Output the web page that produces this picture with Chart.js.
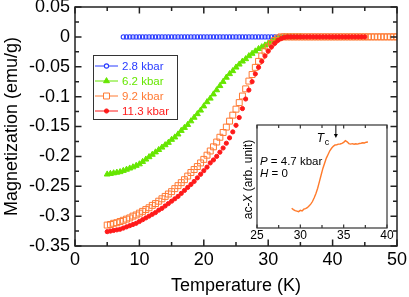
<!DOCTYPE html>
<html>
<head>
<meta charset="utf-8">
<script src="https://cdn.jsdelivr.net/npm/chart.js@4.4.1/dist/chart.umd.min.js"></script>
<style>
  body { margin: 0; background: #fff; }
  #wrap { position: relative; width: 409px; height: 297px; }
  #main { position: absolute; left: 0; top: 0; }
  #inset { position: absolute; left: 235px; top: 116px; }
</style>
</head>
<body>
<div id="wrap">
  <canvas id="main" width="409" height="297"></canvas>
  <canvas id="inset" width="174" height="140"></canvas>
</div>
<script>
// temperature grid (K) for the four M(T) curves
const temps = [
  5, 5.5, 6, 6.5, 7, 7.5, 8, 8.5, 9, 9.5,
  10, 10.5, 11, 11.5, 12, 12.5, 13, 13.5, 14, 14.5,
  15, 15.5, 16, 16.5, 17, 17.5, 18, 18.5, 19, 19.5,
  20, 20.5, 21, 21.5, 22, 22.5, 23, 23.5, 24, 24.5,
  25, 25.5, 26, 26.5, 27, 27.5, 28, 28.5, 29, 29.5,
  30, 30.5, 31, 31.5, 32, 32.5, 33, 33.5, 34, 34.5,
  35, 35.5, 36, 36.5, 37, 37.5, 38, 38.5, 39, 39.5,
  40, 40.5, 41, 41.5, 42, 42.5, 43, 43.5, 44, 44.5,
  45, 45.5, 46, 46.5, 47, 47.5, 48, 48.5, 49, 49.5,
  50
];

// magnetization (emu/g), null = not measured
const m28 = [
  null, null, null, null, null, 0, 0, 0, 0, 0,
  0, 0, 0, 0, 0, 0, 0, 0, 0, 0,
  0, 0, 0, 0, 0, 0, 0, 0, 0, 0,
  0, 0, 0, 0, 0, 0, 0, 0, 0, 0,
  0, 0, 0, 0, 0, 0, 0, 0, 0, 0,
  0, 0, 0, 0, 0, 0, 0, 0, 0, null,
  null, null, null, null, null, null, null, null, null, null,
  null, null, null, null, null, null, null, null, null, null,
  null, null, null, null, null, null, null, null, null, null,
  null
];
const m62 = [
  -0.230, -0.229, -0.228, -0.227, -0.226, -0.224, -0.222, -0.220, -0.218, -0.2155,
  -0.213, -0.209, -0.205, -0.201, -0.197, -0.193, -0.189, -0.185, -0.181, -0.177,
  -0.172, -0.168, -0.163, -0.157, -0.152, -0.147, -0.141, -0.135, -0.129, -0.123,
  -0.116, -0.109, -0.103, -0.096, -0.089, -0.082, -0.075, -0.068, -0.062, -0.057,
  -0.051, -0.046, -0.041, -0.037, -0.032, -0.028, -0.024, -0.020, -0.017, -0.014,
  -0.011, -0.008, -0.005, -0.003, -0.001, 0, 0, 0, 0, 0,
  0, null, null, null, null, null, null, null, null, null,
  null, null, null, null, null, null, null, null, null, null,
  null, null, null, null, null, null, null, null, null, null,
  null
];
const m92 = [
  -0.315, -0.314, -0.312, -0.311, -0.309, -0.307, -0.305, -0.303, -0.300, -0.298,
  -0.295, -0.292, -0.289, -0.286, -0.282, -0.279, -0.275, -0.271, -0.267, -0.263,
  -0.259, -0.254, -0.249, -0.244, -0.239, -0.233, -0.227, -0.222, -0.217, -0.211,
  -0.205, -0.198, -0.191, -0.184, -0.176, -0.168, -0.160, -0.151, -0.141, -0.131,
  -0.121, -0.110, -0.099, -0.087, -0.074, -0.063, -0.051, -0.041, -0.032, -0.024,
  -0.017, -0.011, -0.006, -0.002, 0, 0, 0, 0, 0, 0,
  0, 0, 0, 0, 0, 0, 0, 0, 0, 0,
  0, 0, 0, 0, 0, 0, 0, 0, 0, 0,
  0, 0, 0, 0, 0, 0, 0, 0, 0, 0,
  0
];
const m113 = [
  -0.326, -0.325, -0.324, -0.323, -0.322, -0.320, -0.318, -0.316, -0.314, -0.312,
  -0.309, -0.306, -0.303, -0.300, -0.297, -0.294, -0.290, -0.287, -0.283, -0.279,
  -0.275, -0.271, -0.267, -0.262, -0.257, -0.252, -0.247, -0.242, -0.236, -0.230,
  -0.224, -0.218, -0.211, -0.206, -0.200, -0.193, -0.186, -0.178, -0.169, -0.159,
  -0.148, -0.135, -0.120, -0.104, -0.089, -0.075, -0.062, -0.051, -0.041, -0.032,
  -0.024, -0.017, -0.011, -0.006, -0.003, -0.001, 0, 0, 0, 0,
  0, 0, 0, 0, 0, 0, 0, 0, 0, 0,
  0, 0, 0, 0, 0, 0, 0, 0, 0, 0,
  0, null, null, null, null, null, null, null, null, null,
  null
];
const seriesLabels = ['2.8 kbar', '6.2 kbar', '9.2 kbar', '11.3 kbar'];

// inset: ac susceptibility at 4.7 kbar, arbitrary units
const insetTemps = [
  29.0, 29.2, 29.4, 29.6, 29.8, 30.0, 30.2, 30.4, 30.6, 30.8,
  31.0, 31.2, 31.4, 31.6, 31.8, 32.0, 32.2, 32.4, 32.6, 32.8,
  33.0, 33.2, 33.4, 33.6, 33.8, 34.0, 34.2, 34.4, 34.6, 34.8,
  35.0, 35.2, 35.4, 35.6, 35.8, 36.0, 36.2, 36.4, 36.6, 36.8,
  37.0, 37.2, 37.4, 37.6, 37.8
];
const insetChi = [
  1.34, 1.25, 1.18, 1.15, 1.11, 1.20, 1.16, 1.28, 1.32, 1.38,
  1.50, 1.62, 1.80, 2.05, 2.35, 2.70, 3.15, 3.60, 4.05, 4.40,
  4.75, 5.00, 5.25, 5.42, 5.55, 5.64, 5.66, 5.70, 5.71, 5.75,
  5.82, 5.93, 5.86, 5.74, 5.70, 5.73, 5.69, 5.72, 5.70, 5.74,
  5.76, 5.79, 5.78, 5.83, 5.84
];
const tcTemp = 34.1;

const FONT = '"Liberation Sans", Arial, sans-serif';
Chart.defaults.font.family = FONT;
Chart.defaults.color = '#000';

function points(xs, ys) {
  return xs.map((x, i) => ({ x: x, y: ys[i] })).filter(p => p.y !== null);
}

// inward ticks plus the frame
const frameTicks = {
  id: 'frameTicks',
  afterDatasetsDraw(chart, args, o) {
    const ctx = chart.ctx, a = chart.chartArea;
    const x = chart.scales.x, y = chart.scales.y;
    const isMajor = (v, m) => Math.abs(v / m - Math.round(v / m)) < 1e-6;
    ctx.save();
    ctx.strokeStyle = o.color;
    ctx.lineWidth = o.width;
    ctx.beginPath();
    for (let v = x.min; v <= x.max + 1e-9; v += o.xStep) {
      const px = x.getPixelForValue(v);
      const len = isMajor(v, o.xMajor) ? o.major : o.minor;
      ctx.moveTo(px, a.bottom); ctx.lineTo(px, a.bottom - len);
      ctx.moveTo(px, a.top); ctx.lineTo(px, a.top + len);
    }
    if (o.yStep) {
      for (let v = y.min; v <= y.max + 1e-9; v += o.yStep) {
        const py = y.getPixelForValue(v);
        const len = isMajor(v, o.yMajor) ? o.major : o.minor;
        ctx.moveTo(a.left, py); ctx.lineTo(a.left + len, py);
        ctx.moveTo(a.right, py); ctx.lineTo(a.right - len, py);
      }
    }
    ctx.stroke();
    ctx.strokeRect(a.left, a.top, a.right - a.left, a.bottom - a.top);
    ctx.restore();
  }
};

const boxLegend = {
  id: 'boxLegend',
  afterDatasetsDraw(chart, args, o) {
    const ctx = chart.ctx;
    ctx.save();
    ctx.fillStyle = '#fff';
    ctx.fillRect(o.x, o.y, o.w, o.h);
    ctx.strokeStyle = '#333';
    ctx.lineWidth = 1;
    ctx.strokeRect(o.x + 0.5, o.y + 0.5, o.w, o.h);
    ctx.font = o.font + 'px ' + FONT;
    ctx.textBaseline = 'middle';
    chart.data.datasets.forEach((ds, i) => {
      const yy = o.y + o.first + i * o.step;
      ctx.strokeStyle = ds.borderColor;
      ctx.lineWidth = 1;
      ctx.beginPath();
      ctx.moveTo(o.x + 2, yy); ctx.lineTo(o.x + 25, yy);
      ctx.stroke();
      ctx.fillStyle = ds.pointBackgroundColor === 'transparent' ? '#fff' : ds.pointBackgroundColor;
      ctx.lineWidth = ds.pointBorderWidth;
      Chart.helpers.drawPoint(ctx, {
        pointStyle: ds.pointStyle, radius: ds.pointRadius, rotation: 0, borderWidth: ds.pointBorderWidth
      }, o.x + 13.5, yy);
      ctx.fillStyle = ds.borderColor;
      ctx.fillText(ds.label, o.x + 29, yy + 0.5);
    });
    ctx.restore();
  }
};

const colors = ['#2a3cff', '#66e600', '#ff7a33', '#ff1a1a'];
const styles = [
  { pointStyle: 'circle', pointRadius: 2.1, border: 1.1, fill: 'transparent', order: 3 },
  { pointStyle: 'triangle', pointRadius: 3.4, border: 1, fill: colors[1], order: 2 },
  { pointStyle: 'rect', pointRadius: 4.2, border: 1, fill: 'transparent', order: 1 },
  { pointStyle: 'circle', pointRadius: 2.1, border: 1, fill: colors[3], order: 0 }
];
const mData = [m28, m62, m92, m113];

new Chart(document.getElementById('main'), {
  type: 'scatter',
  data: {
    datasets: mData.map((vals, i) => ({
      label: seriesLabels[i],
      data: points(temps, vals),
      showLine: false,
      borderColor: colors[i],
      pointBorderColor: colors[i],
      pointBackgroundColor: styles[i].fill,
      pointStyle: styles[i].pointStyle,
      pointRadius: styles[i].pointRadius,
      pointBorderWidth: styles[i].border,
      order: styles[i].order
    }))
  },
  options: {
    responsive: false,
    animation: false,
    layout: { padding: { left: 0, right: 12, top: 7, bottom: 0 } },
    plugins: {
      legend: { display: false },
      tooltip: { enabled: false },
      frameTicks: { color: '#222', width: 1.5, xStep: 5, xMajor: 10, yStep: 0.025, yMajor: 0.05, major: 6.5, minor: 4 },
      boxLegend: { x: 93, y: 55, w: 84, h: 64, first: 11, step: 15, font: 11.5 }
    },
    scales: {
      x: {
        type: 'linear', min: 0, max: 50,
        ticks: { stepSize: 10, font: { size: 18 }, padding: 3, maxRotation: 0 },
        grid: { display: false, drawTicks: false },
        border: { display: false },
        title: { display: true, text: 'Temperature (K)', font: { size: 18 }, padding: { top: 0, bottom: 0 } },
        afterFit(s) { s.height = 51; s.paddingLeft = 0; s.paddingRight = 0; }
      },
      y: {
        type: 'linear', min: -0.35, max: 0.05,
        ticks: { stepSize: 0.05, font: { size: 18 }, padding: 5, callback: v => String(Number(v.toFixed(2))) },
        grid: { display: false, drawTicks: false },
        border: { display: false },
        title: { display: true, text: 'Magnetization (emu/g)', font: { size: 18 }, padding: { top: 1, bottom: 0 } },
        afterFit(s) { s.width = 75; s.paddingTop = 0; s.paddingBottom = 0; }
      }
    }
  },
  plugins: [frameTicks, boxLegend]
});

// text with italic pieces, runs = [[text, italic], ...]
function drawRuns(ctx, runs, x, y, size) {
  let cx = x;
  runs.forEach(r => {
    ctx.font = (r[1] ? 'italic ' : '') + size + 'px ' + FONT;
    ctx.fillText(r[0], cx, y);
    cx += ctx.measureText(r[0]).width;
  });
}
function runsWidth(ctx, runs, size) {
  let w = 0;
  runs.forEach(r => {
    ctx.font = (r[1] ? 'italic ' : '') + size + 'px ' + FONT;
    w += ctx.measureText(r[0]).width;
  });
  return w;
}

const insetNotes = {
  id: 'insetNotes',
  beforeDraw(chart) {
    const ctx = chart.ctx, a = chart.chartArea;
    ctx.save();
    ctx.fillStyle = '#fff';
    ctx.fillRect(a.left, a.top, a.right - a.left, a.bottom - a.top);
    ctx.restore();
  },
  afterDatasetsDraw(chart) {
    const ctx = chart.ctx, a = chart.chartArea;
    ctx.save();
    ctx.fillStyle = '#000';
    ctx.textBaseline = 'middle';
    drawRuns(ctx, [['P', true], [' = 4.7 kbar', false]], a.left + 3, 46, 11.5);
    drawRuns(ctx, [['H', true], [' = 0', false]], a.left + 3, 57.5, 11.5);

    // Tc arrow
    const ax = chart.scales.x.getPixelForValue(tcTemp);
    ctx.strokeStyle = '#000';
    ctx.lineWidth = 1;
    ctx.beginPath();
    ctx.moveTo(ax, a.top); ctx.lineTo(ax, a.top + 10);
    ctx.stroke();
    ctx.beginPath();
    ctx.moveTo(ax - 2, a.top + 9); ctx.lineTo(ax + 2, a.top + 9); ctx.lineTo(ax, a.top + 13);
    ctx.closePath(); ctx.fill();
    ctx.font = 'italic 12px ' + FONT;
    ctx.fillText('T', ax - 19, a.top + 13.5);
    ctx.font = '9px ' + FONT;
    ctx.fillText('c', ax - 11, a.top + 17.5);

    // rotated y title
    const title = [['ac-', false], ['X', true], [' (arb. unit)', false]];
    ctx.translate(13.5, (a.top + a.bottom) / 2 + 3);
    ctx.rotate(-Math.PI / 2);
    const w = runsWidth(ctx, title, 12);
    drawRuns(ctx, title, -w / 2, 0, 12);
    ctx.restore();
  }
};

new Chart(document.getElementById('inset'), {
  type: 'scatter',
  data: {
    datasets: [{
      label: 'ac-X',
      data: points(insetTemps, insetChi),
      showLine: true,
      borderColor: '#ff7a2a',
      borderWidth: 1.4,
      pointRadius: 0,
      tension: 0
    }]
  },
  options: {
    responsive: false,
    animation: false,
    layout: { padding: { left: 0, right: 22, top: 9, bottom: 0 } },
    plugins: {
      legend: { display: false },
      tooltip: { enabled: false },
      frameTicks: { color: '#333', width: 1.2, xStep: 2.5, xMajor: 5, yStep: 0, major: 3.5, minor: 3 }
    },
    scales: {
      x: {
        type: 'linear', min: 25, max: 40,
        ticks: { stepSize: 5, font: { size: 12 }, padding: 0, maxRotation: 0 },
        grid: { display: false, drawTicks: false },
        border: { display: false },
        afterFit(s) { s.height = 28; s.paddingLeft = 0; s.paddingRight = 0; }
      },
      y: {
        type: 'linear', min: 0, max: 7,
        ticks: { display: false, stepSize: 1 },
        grid: { display: false, drawTicks: false },
        border: { display: false },
        afterFit(s) { s.width = 22; s.paddingTop = 0; s.paddingBottom = 0; }
      }
    }
  },
  plugins: [insetNotes, frameTicks]
});
</script>
</body>
</html>
